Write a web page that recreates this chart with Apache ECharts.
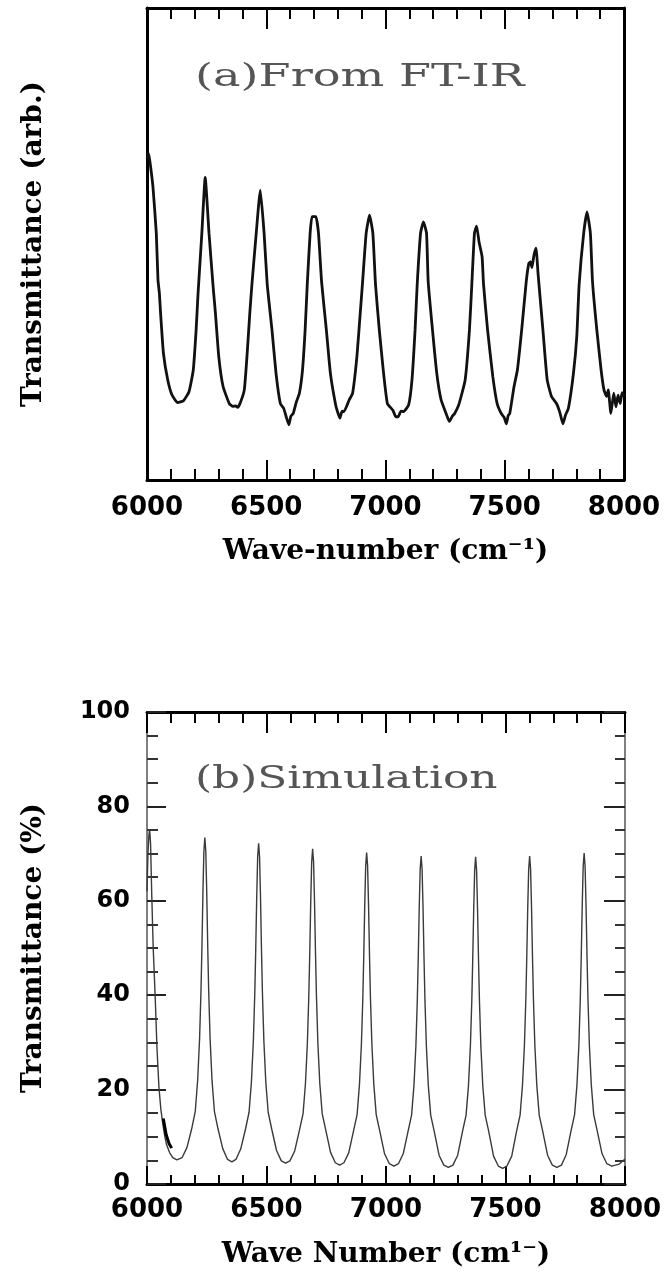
<!DOCTYPE html>
<html>
<head>
<meta charset="utf-8">
<script src="https://cdn.jsdelivr.net/npm/echarts@6/dist/echarts.min.js"></script>
<style>
html,body{margin:0;padding:0;background:#fff;}
#chart{width:666px;height:1277px;}
</style>
</head>
<body>
<div id="chart"></div>
<script>
// ---- Data ----
const xRange = [6000, 8000];
const xTickStep = 500;
const yTickStepB = 20;

// (a) FT-IR measured transmittance, arbitrary units (0-100 of panel height)
const ftirData = [
  [6000, 68], [6007, 69.2], [6016, 66], [6025, 62.1], [6039, 52.3], [6046, 42.4], [6052, 39.5],
  [6057, 35.3], [6069, 26.8], [6087, 21.2], [6105, 18.0], [6128, 16.4], [6153, 16.8], [6176, 18.7],
  [6194, 23.3], [6206, 31.8], [6214, 39.5], [6230, 52.3], [6244, 64.1], [6260, 52.3], [6278, 40.5],
  [6287, 35.3], [6301, 26.1], [6319, 19.8], [6345, 16.2], [6360, 15.6], [6372, 15.7], [6380, 15.4],
  [6390, 16.2], [6408, 19.1], [6420, 26.8], [6431, 35.3], [6440, 41.5], [6458, 52.3], [6475, 61.4],
  [6491, 52.3], [6504, 41.5], [6524, 31.8], [6541, 22.6], [6559, 16.2], [6573, 15.2], [6583, 13.5],
  [6595, 11.7], [6603, 13.5], [6613, 14.1], [6626, 16.5], [6639, 18.4], [6652, 23.3], [6663, 31.8],
  [6672, 41.5], [6684, 52.3], [6692, 55.8], [6708, 55.8], [6719, 52.3], [6732, 42.0], [6752, 31.8],
  [6769, 22.6], [6791, 15.9], [6800, 14.3], [6809, 13.1], [6818, 14.6], [6826, 14.5], [6848, 17.0],
  [6862, 18.4], [6880, 26.1], [6894, 35.3], [6904, 42.0], [6919, 52.3], [6933, 56.1], [6947, 52.3],
  [6958, 41.5], [6974, 31.8], [6992, 22.6], [7008, 16.2], [7031, 14.8], [7043, 13.4], [7053, 13.4],
  [7065, 14.6], [7076, 14.5], [7097, 15.9], [7111, 21.2], [7124, 31.8], [7133, 41.5], [7147, 52.3],
  [7159, 54.7], [7172, 52.3], [7179, 42.0], [7197, 31.8], [7215, 22.6], [7233, 17.0], [7254, 14.1],
  [7268, 12.4], [7280, 13.5], [7290, 14.1], [7307, 15.9], [7334, 21.2], [7352, 31.8], [7362, 41.5],
  [7373, 52.3], [7382, 53.8], [7392, 50.5], [7405, 47.3], [7411, 41.5], [7428, 31.8], [7450, 21.9],
  [7468, 16.2], [7485, 14.1], [7497, 13.3], [7507, 11.9], [7514, 13.6], [7521, 14.1], [7539, 19.8],
  [7553, 23.3], [7571, 31.8], [7590, 42.0], [7601, 45.9], [7608, 46.2], [7614, 45.0], [7622, 47.5],
  [7631, 49.1], [7640, 43.5], [7660, 31.8], [7678, 21.2], [7696, 17.7], [7717, 16.2], [7730, 14.5],
  [7744, 11.9], [7755, 13.8], [7767, 15.2], [7788, 22.6], [7802, 30.4], [7812, 41.5], [7831, 52.3],
  [7845, 56.8], [7859, 52.3], [7868, 42.0], [7886, 31.8], [7904, 23.3], [7916, 19.1], [7927, 17.7],
  [7934, 19.1], [7945, 14.1], [7957, 18.4], [7966, 15.5], [7975, 18.0], [7984, 16.2], [7992, 18.5],
  [8000, 17.7]
];

// (b) simulated transmittance (%)
const simData = [
  [6000, 62], [6004, 70], [6008, 74], [6011, 75.2], [6015, 72], [6020, 61], [6026, 50], [6034, 40],
  [6042, 28.5], [6050, 20.5], [6058, 15.8], [6066, 12.8], [6074, 10.2], [6082, 8.3], [6095, 6.6],
  [6108, 5.6], [6125, 5.1],
  [6147, 5.6], [6167, 7.7], [6187, 11.7], [6202, 15.4], [6212, 22.0], [6220, 30.8], [6226, 41.1],
  [6230, 50.6], [6234, 61.7], [6238, 70.5], [6242, 73.4], [6246, 70.5], [6250, 61.7], [6254, 50.6],
  [6258, 41.1], [6264, 30.8], [6272, 22.0], [6282, 15.4], [6297, 11.7], [6317, 7.5], [6337, 5.2],
  [6355, 4.7],
  [6372, 5.2], [6392, 7.4], [6412, 11.6], [6427, 15.2], [6437, 21.7], [6445, 30.3], [6451, 40.4],
  [6455, 49.8], [6459, 60.6], [6463, 69.3], [6467, 72.2], [6471, 69.3], [6475, 60.6], [6479, 49.8],
  [6483, 40.4], [6489, 30.3], [6497, 21.7], [6507, 15.2], [6522, 11.6], [6542, 7.1], [6562, 4.9],
  [6580, 4.4],
  [6598, 4.9], [6618, 7.0], [6638, 11.4], [6653, 14.9], [6663, 21.3], [6671, 29.8], [6677, 39.8],
  [6681, 49.0], [6685, 59.6], [6689, 68.2], [6693, 71.0], [6697, 68.2], [6701, 59.6], [6705, 49.0],
  [6709, 39.8], [6715, 29.8], [6723, 21.3], [6733, 14.9], [6748, 11.4], [6768, 6.7], [6788, 4.5],
  [6806, 4.0],
  [6824, 4.5], [6844, 6.6], [6864, 11.2], [6879, 14.7], [6889, 21.1], [6897, 29.5], [6903, 39.3],
  [6907, 48.4], [6911, 59.0], [6915, 67.4], [6919, 70.2], [6923, 67.4], [6927, 59.0], [6931, 48.4],
  [6935, 39.3], [6941, 29.5], [6949, 21.1], [6959, 14.7], [6974, 11.2], [6994, 6.4], [7014, 4.3],
  [7033, 3.8],
  [7052, 4.3], [7072, 6.4], [7092, 11.1], [7107, 14.6], [7117, 20.9], [7125, 29.2], [7131, 38.9],
  [7135, 48.0], [7139, 58.4], [7143, 66.7], [7147, 69.5], [7151, 66.7], [7155, 58.4], [7159, 48.0],
  [7163, 38.9], [7169, 29.2], [7177, 20.9], [7187, 14.6], [7202, 11.1], [7222, 6.1], [7242, 4.0],
  [7261, 3.5],
  [7280, 4.0], [7300, 6.1], [7320, 11.1], [7335, 14.6], [7345, 20.8], [7353, 29.1], [7359, 38.8],
  [7363, 47.8], [7367, 58.2], [7371, 66.5], [7375, 69.3], [7379, 66.5], [7383, 58.2], [7387, 47.8],
  [7391, 38.8], [7397, 29.1], [7405, 20.8], [7415, 14.6], [7430, 11.1], [7450, 5.9], [7470, 3.8],
  [7488, 3.3],
  [7506, 3.8], [7526, 5.9], [7546, 11.1], [7561, 14.6], [7571, 20.9], [7579, 29.2], [7585, 38.9],
  [7589, 48.0], [7593, 58.4], [7597, 66.7], [7601, 69.5], [7605, 66.7], [7609, 58.4], [7613, 48.0],
  [7617, 38.9], [7623, 29.2], [7631, 20.9], [7641, 14.6], [7656, 11.1], [7676, 6.1], [7696, 4.0],
  [7715, 3.5],
  [7734, 4.0], [7754, 6.2], [7774, 11.2], [7789, 14.7], [7799, 21.0], [7807, 29.4], [7813, 39.3],
  [7817, 48.4], [7821, 58.9], [7825, 67.3], [7829, 70.1], [7833, 67.3], [7837, 58.9], [7841, 48.4],
  [7845, 39.3], [7851, 29.4], [7859, 21.0], [7869, 14.7], [7884, 11.2], [7904, 6.4], [7924, 4.3],
  [7945, 3.8], [7975, 4.2], [8000, 5.3]
];

// short dark stroke over the first descending edge in (b)
const simDarkStroke = [[6068, 13.9], [6080, 10.5], [6092, 8.6], [6103, 7.6]];

const titleA = '(a)From FT-IR';
const titleB = '(b)Simulation';
const xNameA = 'Wave-number (cm\u207B\u00B9)';
const xNameB = 'Wave Number (cm\u00B9\u207B)';
const yNameA = 'Transmittance (arb.)';
const yNameB = 'Transmittance (%)';

// ---- Chart ----
const chart = echarts.init(document.getElementById('chart'), null, {renderer: 'canvas'});

const tickFont = {fontFamily: 'DejaVu Sans', fontWeight: 'bold', color: '#000'};
const nameFont = {fontFamily: 'DejaVu Serif', fontWeight: 'bold', fontSize: 28, color: '#000'};
const plainNum = function (v) { return String(v); };

function xAxisDef(gridIndex, pos, opts) {
  return {
    type: 'value', gridIndex: gridIndex, position: pos,
    min: xRange[0], max: xRange[1], interval: xTickStep,
    axisLine: {show: true, onZero: false, lineStyle: {color: '#000', width: 3}},
    axisTick: {show: true, inside: true, length: opts.major, lineStyle: {color: '#000', width: 2}},
    minorTick: {show: true, splitNumber: 5, length: opts.minor, lineStyle: {color: '#000', width: 2}},
    splitLine: {show: false}, minorSplitLine: {show: false},
    axisLabel: opts.label ? Object.assign({show: true, fontSize: 26, margin: opts.margin, formatter: plainNum}, tickFont) : {show: false},
    name: opts.name || '', nameLocation: 'middle', nameGap: opts.nameGap || 0,
    nameTextStyle: nameFont, nameMoveOverlap: false
  };
}

const option = {
  animation: false,
  backgroundColor: '#fff',
  grid: [
    {left: 147, top: 8, width: 477, height: 472, outerBoundsMode: 'none', containLabel: false},
    {left: 147, top: 712, width: 478, height: 472, outerBoundsMode: 'none', containLabel: false}
  ],
  xAxis: [
    xAxisDef(0, 'bottom', {major: 20, minor: 11, label: true, margin: 15, name: xNameA, nameGap: 58}),
    xAxisDef(0, 'top', {major: 21, minor: 11, label: false}),
    xAxisDef(1, 'bottom', {major: 18, minor: 9, label: true, margin: 13, name: xNameB, nameGap: 57}),
    xAxisDef(1, 'top', {major: 21, minor: 11, label: false})
  ],
  yAxis: [
    {
      type: 'value', gridIndex: 0, position: 'left', min: 0, max: 100,
      axisLine: {show: true, onZero: false, lineStyle: {color: '#000', width: 3}},
      axisTick: {show: false}, axisLabel: {show: false}, splitLine: {show: false},
      name: yNameA, nameLocation: 'middle', nameGap: 99, nameRotate: 90,
      nameTextStyle: nameFont, nameMoveOverlap: false
    },
    {
      type: 'value', gridIndex: 0, position: 'right', min: 0, max: 100,
      axisLine: {show: true, onZero: false, lineStyle: {color: '#000', width: 3}},
      axisTick: {show: false}, axisLabel: {show: false}, splitLine: {show: false}
    },
    {
      type: 'value', gridIndex: 1, position: 'left', min: 0, max: 100, interval: yTickStepB,
      axisLine: {show: true, onZero: false, lineStyle: {color: '#555', width: 1.5}},
      axisTick: {show: true, inside: true, length: 19, lineStyle: {color: '#222', width: 2}},
      minorTick: {show: true, splitNumber: 4, length: 11, lineStyle: {color: '#333', width: 2}},
      axisLabel: Object.assign({show: true, fontSize: 24, margin: 17, formatter: plainNum}, tickFont),
      splitLine: {show: false},
      name: yNameB, nameLocation: 'middle', nameGap: 99, nameRotate: 90,
      nameTextStyle: nameFont, nameMoveOverlap: false
    },
    {
      type: 'value', gridIndex: 1, position: 'right', min: 0, max: 100, interval: yTickStepB,
      axisLine: {show: true, onZero: false, lineStyle: {color: '#555', width: 1.5}},
      axisTick: {show: true, inside: true, length: 21, lineStyle: {color: '#222', width: 2}},
      minorTick: {show: true, splitNumber: 4, length: 10, lineStyle: {color: '#333', width: 2}},
      axisLabel: {show: false}, splitLine: {show: false}
    }
  ],
  series: [
    {
      type: 'line', xAxisIndex: 0, yAxisIndex: 0, data: ftirData,
      showSymbol: false, smooth: 0.15, lineStyle: {color: '#111', width: 2.8}, z: 3
    },
    {
      type: 'line', xAxisIndex: 2, yAxisIndex: 2, data: simData,
      showSymbol: false, lineStyle: {color: '#3a3a3a', width: 1.4}, z: 3
    },
    {
      type: 'line', xAxisIndex: 2, yAxisIndex: 2, data: simDarkStroke,
      showSymbol: false, lineStyle: {color: '#000', width: 3}, z: 4
    }
  ],
  graphic: [
    {type: 'text', x: 195, y: 62, scaleX: 1.49,
     style: {text: titleA, font: 'normal 31px "DejaVu Serif"', fill: '#555'}},
    {type: 'text', x: 195, y: 764, scaleX: 1.37,
     style: {text: titleB, font: 'normal 32px "DejaVu Serif"', fill: '#555'}}
  ]
};

chart.setOption(option);
</script>
</body>
</html>
